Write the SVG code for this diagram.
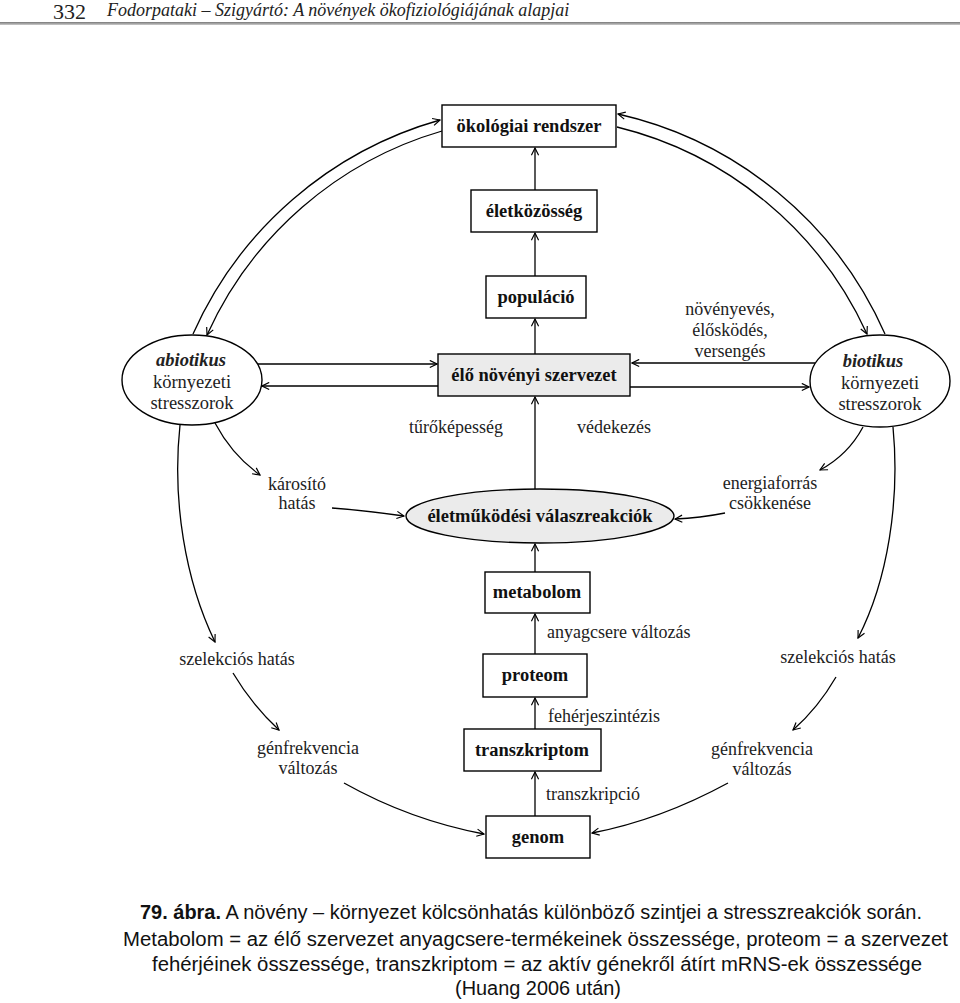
<svg xmlns="http://www.w3.org/2000/svg" width="960" height="1003" viewBox="0 0 960 1003">
<style>
.bx{fill:#fff;stroke:#000;stroke-width:1.4}
.gr{fill:#ebebeb;stroke:#000;stroke-width:1.4}
.nt{font-family:"Liberation Serif","Times New Roman",serif;font-weight:bold;font-size:18.5px;text-anchor:middle;fill:#111}
.lb{font-family:"Liberation Serif","Times New Roman",serif;font-size:18px;fill:#222}
.el{font-size:18.5px}
.c{text-anchor:middle}
.cn path,.cn line{fill:none;stroke:#000;stroke-width:1.3}
.cap{font-family:"Liberation Sans",Arial,sans-serif;font-size:20px;text-anchor:middle;fill:#111}
</style>
<defs>
<marker id="ah" viewBox="0 0 10 10" refX="9" refY="5" markerWidth="9" markerHeight="9" markerUnits="userSpaceOnUse" orient="auto">
<path d="M1,1 L9,5 L1,9" fill="none" stroke="#000" stroke-width="1.3"/>
</marker>
<linearGradient id="hl" x1="0" y1="0" x2="0" y2="1">
<stop offset="0" stop-color="#777"/><stop offset="1" stop-color="#ccc"/>
</linearGradient>
</defs>
<rect width="960" height="1003" fill="#fff"/>
<g id="header">
<text x="53" y="19" font-family="Liberation Serif,serif" font-size="22" fill="#222">332</text>
<text x="107" y="16" font-family="Liberation Serif,serif" font-style="italic" font-size="18" fill="#222">Fodorpataki – Szigyártó: A növények ökofiziológiájának alapjai</text>
<rect x="0" y="22" width="960" height="3" fill="url(#hl)"/>
</g>
<g id="connectors" class="cn">
<line x1="535" y1="190" x2="535" y2="148" marker-end="url(#ah)"/>
<line x1="535" y1="276" x2="535" y2="233" marker-end="url(#ah)"/>
<line x1="535" y1="354" x2="535" y2="319" marker-end="url(#ah)"/>
<line x1="535" y1="489" x2="535" y2="397" marker-end="url(#ah)"/>
<line x1="535" y1="572" x2="535" y2="544" marker-end="url(#ah)"/>
<line x1="535" y1="654" x2="535" y2="614" marker-end="url(#ah)"/>
<line x1="535" y1="729" x2="535" y2="698" marker-end="url(#ah)"/>
<line x1="535" y1="816" x2="535" y2="772" marker-end="url(#ah)"/>
<line x1="258" y1="364" x2="437" y2="364" marker-end="url(#ah)"/>
<line x1="438" y1="386" x2="262" y2="386" marker-end="url(#ah)"/>
<line x1="815" y1="363" x2="632" y2="363" marker-end="url(#ah)"/>
<line x1="630" y1="387" x2="809" y2="387" marker-end="url(#ah)"/>
<path d="M193,334 A385,385 0 0 1 440,120" marker-end="url(#ah)"/>
<path d="M442,131 A372,372 0 0 0 207,335" marker-end="url(#ah)"/>
<path d="M885,334 A385,385 0 0 0 618,114" marker-end="url(#ah)"/>
<path d="M617,127 A372,372 0 0 1 867,334" marker-end="url(#ah)"/>
<path d="M180,425 C172,500 185,580 215,642" marker-end="url(#ah)"/>
<path d="M893,427 C900,500 888,580 858,638" marker-end="url(#ah)"/>
<path d="M215,423 Q232,455 260,475" marker-end="url(#ah)"/>
<path d="M332,508 Q370,511 404,516" marker-end="url(#ah)"/>
<path d="M863,427 Q848,455 820,470" marker-end="url(#ah)"/>
<path d="M725,513 Q700,518 675,519" marker-end="url(#ah)"/>
<path d="M233,673 Q252,705 279,730" marker-end="url(#ah)"/>
<path d="M344,783 Q410,820 484,834" marker-end="url(#ah)"/>
<path d="M836,677 Q818,708 793,730" marker-end="url(#ah)"/>
<path d="M728,783 Q660,820 592,833" marker-end="url(#ah)"/>
</g>
<g id="okologiai"><rect class="bx" x="442" y="105" width="174" height="42"/><text class="nt" x="529" y="132">ökológiai rendszer</text></g>
<g id="eletkozosseg"><rect class="bx" x="471" y="190" width="126" height="42"/><text class="nt" x="534" y="217">életközösség</text></g>
<g id="populacio"><rect class="bx" x="486" y="276" width="100" height="42"/><text class="nt" x="536" y="303">populáció</text></g>
<g id="elo"><rect class="gr" x="438" y="354" width="192" height="42"/><text class="nt" x="534" y="381">élő növényi szervezet</text></g>
<g id="valasz"><ellipse class="gr" cx="540" cy="516" rx="134" ry="27"/><text class="nt" x="540" y="522">életműködési válaszreakciók</text></g>
<g id="metabolom"><rect class="bx" x="485" y="572" width="105" height="41"/><text class="nt" x="537" y="598">metabolom</text></g>
<g id="proteom"><rect class="bx" x="483" y="654" width="104" height="43"/><text class="nt" x="535" y="681">proteom</text></g>
<g id="transzkriptom"><rect class="bx" x="464" y="729" width="137" height="42"/><text class="nt" x="532" y="756">transzkriptom</text></g>
<g id="genom"><rect class="bx" x="486" y="816" width="104" height="42"/><text class="nt" x="538" y="843">genom</text></g>
<g id="abiotikus"><ellipse class="bx" cx="192" cy="380" rx="70" ry="45"/>
<text class="lb c el" x="191" y="366" font-weight="bold" font-style="italic">abiotikus</text>
<text class="lb c el" x="192" y="388">környezeti</text>
<text class="lb c el" x="192" y="409">stresszorok</text></g>
<g id="biotikus"><ellipse class="bx" cx="880" cy="381" rx="70" ry="46"/>
<text class="lb c el" x="873" y="367" font-weight="bold" font-style="italic">biotikus</text>
<text class="lb c el" x="880" y="389">környezeti</text>
<text class="lb c el" x="880" y="410">stresszorok</text></g>
<g id="labels">
<text class="lb c" x="730" y="315">növényevés,</text>
<text class="lb c" x="730" y="336">élősködés,</text>
<text class="lb c" x="730" y="357">versengés</text>
<text class="lb c" x="456" y="433">tűrőképesség</text>
<text class="lb c" x="614" y="433">védekezés</text>
<text class="lb c" x="297" y="490">károsító</text>
<text class="lb c" x="297" y="509">hatás</text>
<text class="lb c" x="770" y="489">energiaforrás</text>
<text class="lb c" x="770" y="509">csökkenése</text>
<text class="lb c" x="237" y="665">szelekciós hatás</text>
<text class="lb c" x="838" y="663">szelekciós hatás</text>
<text class="lb c" x="308" y="754">génfrekvencia</text>
<text class="lb c" x="308" y="774">változás</text>
<text class="lb c" x="762" y="755">génfrekvencia</text>
<text class="lb c" x="762" y="775">változás</text>
<text class="lb" x="547" y="638">anyagcsere változás</text>
<text class="lb" x="548" y="722">fehérjeszintézis</text>
<text class="lb" x="546" y="800">transzkripció</text>
</g>
<g id="caption">
<text class="cap" x="531" y="919" textLength="782" lengthAdjust="spacingAndGlyphs"><tspan font-weight="bold">79. ábra.</tspan> A növény – környezet kölcsönhatás különböző szintjei a stresszreakciók során.</text>
<text class="cap" x="535.5" y="946" textLength="825" lengthAdjust="spacingAndGlyphs">Metabolom = az élő szervezet anyagcsere-termékeinek összessége, proteom = a szervezet</text>
<text class="cap" x="537" y="971" textLength="770" lengthAdjust="spacingAndGlyphs">fehérjéinek összessége, transzkriptom = az aktív génekről átírt mRNS-ek összessége</text>
<text class="cap" x="538" y="995" textLength="166" lengthAdjust="spacingAndGlyphs">(Huang 2006 után)</text>
</g>
</svg>
